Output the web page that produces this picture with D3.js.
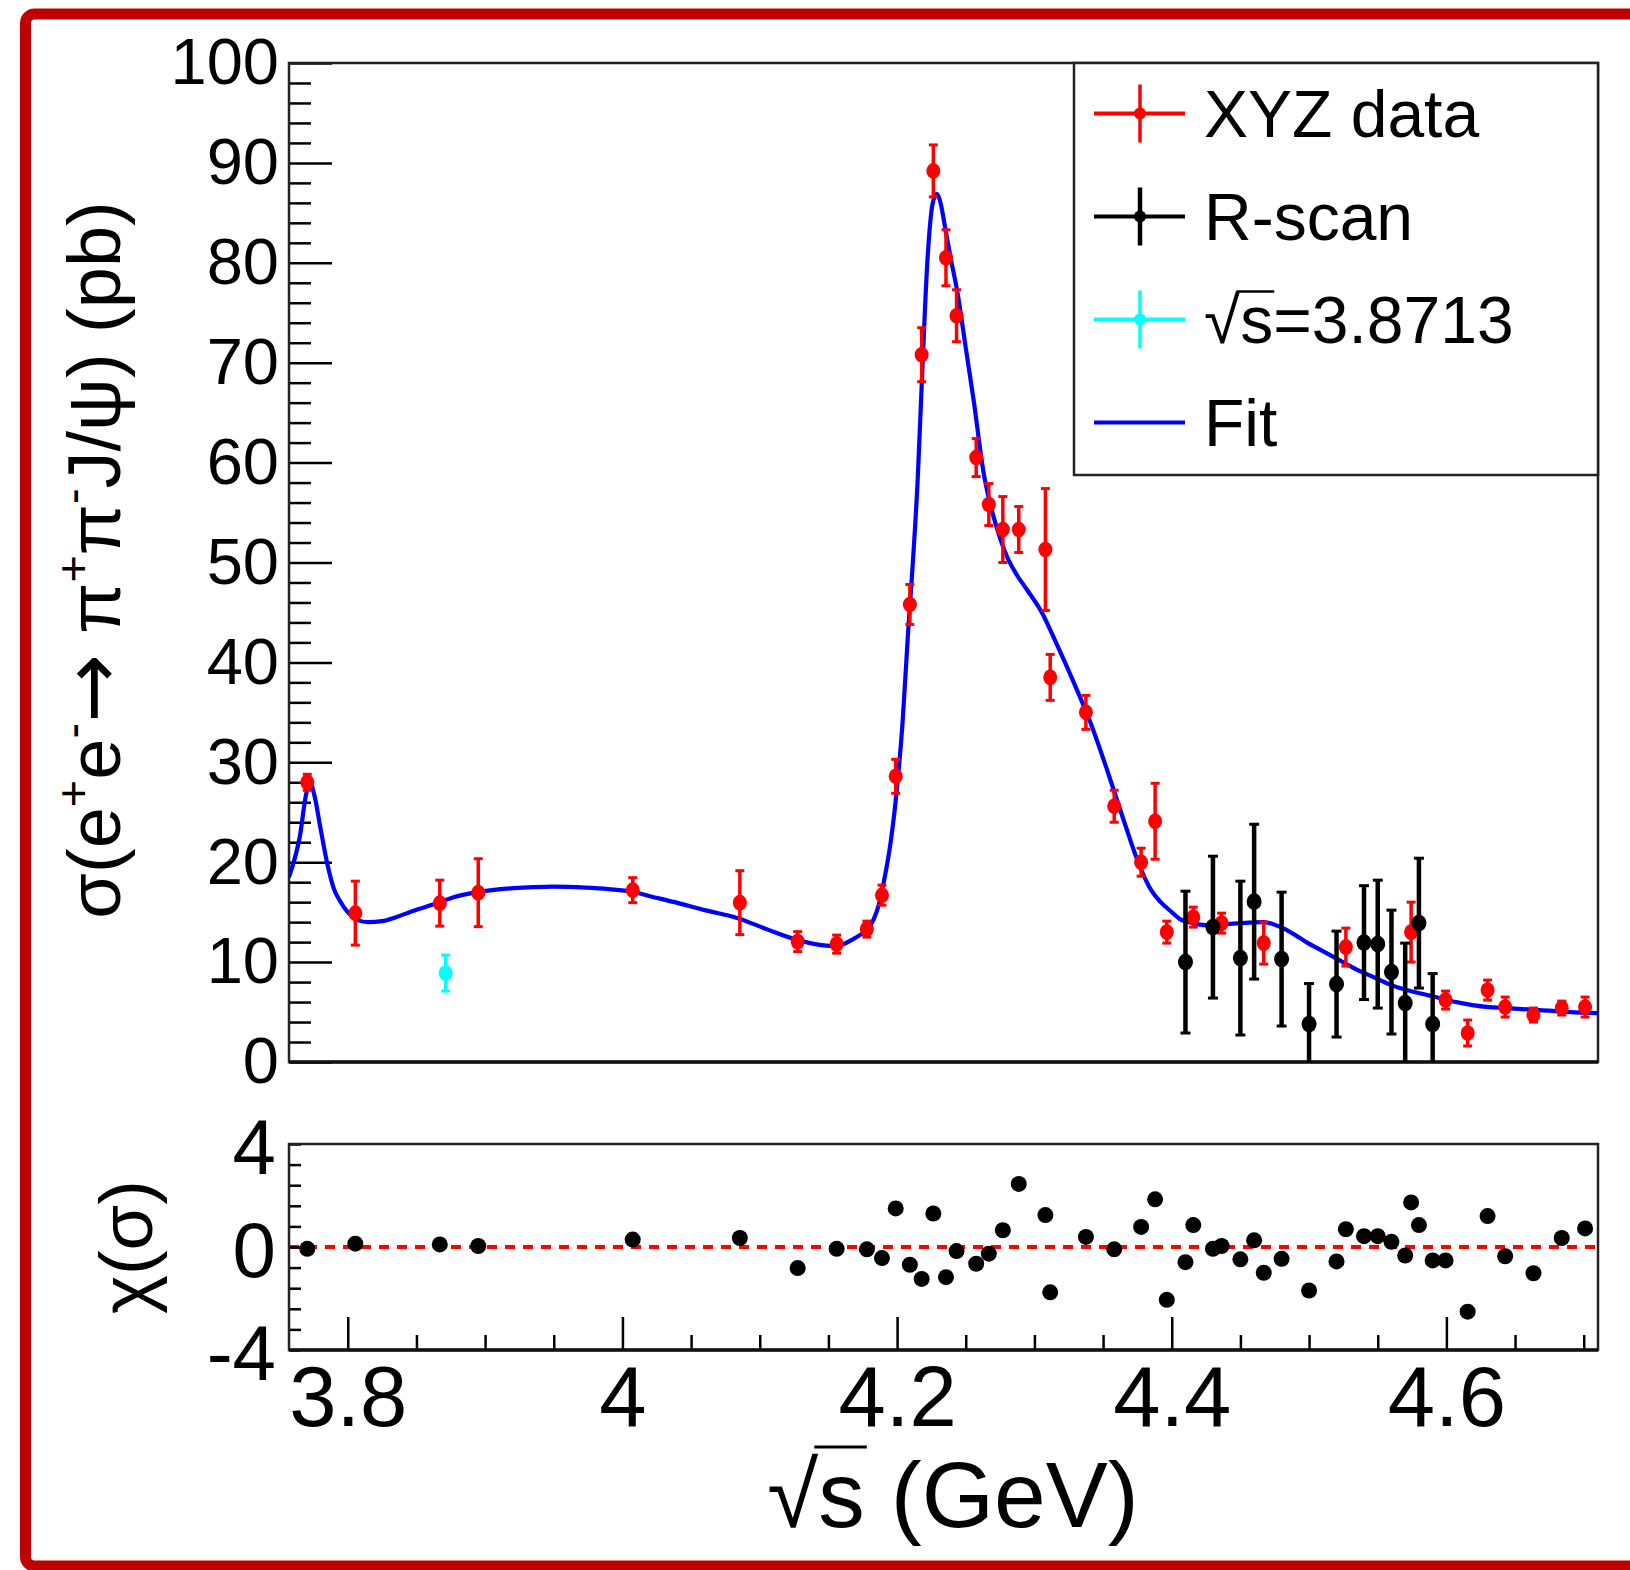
<!DOCTYPE html>
<html>
<head>
<meta charset="utf-8">
<script src="https://cdn.jsdelivr.net/npm/d3@7"></script>
<style>
body { margin: 0; background: #fff; }
svg text { font-family: "Liberation Sans", Arial, Helvetica, sans-serif; fill: #000; }
</style>
</head>
<body>
<svg id="chart" width="1630" height="1570"></svg>
<script>
// XYZ data points (red)
const xyzE = [3.7705, 3.8055, 3.867, 3.895, 4.0075, 4.0855, 4.1276, 4.156, 4.178, 4.189,
  4.199, 4.2093, 4.2179, 4.2264, 4.2356, 4.2433, 4.2576, 4.2668, 4.277, 4.2886,
  4.308, 4.3115, 4.3375, 4.3581, 4.3777, 4.3879, 4.3964, 4.4157, 4.4363, 4.467,
  4.5268, 4.5743, 4.5994, 4.6155, 4.630, 4.6428, 4.6634, 4.684, 4.701];
const xyzS = [28.0, 14.9, 15.9, 16.95, 17.2, 15.95, 12.05, 11.8, 13.3, 16.7,
  28.6, 45.8, 70.8, 89.2, 80.5, 74.7, 60.5, 55.8, 53.3, 53.3,
  51.3, 38.5, 35.0, 25.6, 20.0, 24.1, 13.0, 14.5, 13.9, 11.9,
  11.5, 13.0, 6.2, 2.9, 7.2, 5.5, 4.7, 5.4, 5.5];
const xyzErr = [0.8, 3.2, 2.3, 3.4, 1.25, 3.2, 1.0, 0.9, 0.8, 1.0,
  1.7, 2.0, 2.7, 2.6, 2.8, 2.6, 1.9, 2.1, 3.3, 2.3,
  6.1, 2.3, 1.7, 1.6, 1.4, 3.8, 1.1, 1.0, 1.0, 2.1,
  1.9, 3.0, 0.9, 1.3, 1.0, 1.0, 0.7, 0.7, 1.0];
const xyzChi = [-0.07, 0.13, 0.1, 0.04, 0.29, 0.35, -0.82, -0.07, -0.09, -0.43,
  1.5, -0.69, -1.24, 1.3, -1.17, -0.16, -0.65, -0.26, 0.65, 2.45,
  1.24, -1.76, 0.39, -0.09, 0.78, 1.85, -2.05, 0.85, 0.04, -1.0,
  0.69, 1.73, -0.52, -2.51, 1.2, -0.36, -1.02, 0.35, 0.72];

// R-scan points (black)
const rscanE = [4.41, 4.43, 4.45, 4.46, 4.48, 4.50, 4.52, 4.54, 4.55, 4.56, 4.57, 4.58, 4.59];
const rscanS = [10.0, 13.5, 10.4, 16.05, 10.3, 3.8, 7.8, 11.95, 11.8, 9.0, 5.9, 13.9, 3.8];
const rscanErr = [7.1, 7.1, 7.7, 7.75, 6.7, 4.05, 5.3, 5.7, 6.4, 6.2, 6.0, 6.5, 5.05];
const rscanChi = [-0.59, -0.07, -0.48, 0.26, -0.46, -1.69, -0.56, 0.42, 0.42, 0.2, -0.33, 0.85, -0.52];

// point at sqrt(s)=3.8713 (cyan)
const cyanE = [3.8713];
const cyanS = [8.9];
const cyanErr = [1.8];

// fit curve
const fitE = [3.7572, 3.765, 3.770, 3.773, 3.776, 3.780, 3.785, 3.790, 3.794, 3.800,
  3.807, 3.815, 3.825, 3.835, 3.845, 3.856, 3.867, 3.877, 3.890, 3.905,
  3.921, 3.935, 3.950, 3.973, 3.990, 4.007, 4.020, 4.038, 4.060, 4.084,
  4.105, 4.128, 4.145, 4.155, 4.161, 4.168, 4.174, 4.178, 4.183, 4.187,
  4.191, 4.195, 4.200, 4.204, 4.208, 4.211, 4.215, 4.218, 4.222, 4.226,
  4.229, 4.232, 4.234, 4.239, 4.244, 4.250, 4.256, 4.263, 4.267, 4.273,
  4.280, 4.287, 4.295, 4.305, 4.317, 4.328, 4.341, 4.353, 4.365, 4.377,
  4.385, 4.392, 4.400, 4.406, 4.415, 4.425, 4.440, 4.450, 4.467, 4.474,
  4.481, 4.490, 4.498, 4.510, 4.522, 4.534, 4.547, 4.558, 4.571, 4.583,
  4.595, 4.607, 4.619, 4.631, 4.643, 4.655, 4.668, 4.690, 4.7104];
const fitS = [18.5, 22.5, 27.0, 27.8, 26.5, 23.5, 19.9, 17.3, 16.2, 15.0,
  14.2, 14.0, 14.1, 14.5, 15.0, 15.5, 16.0, 16.5, 16.9, 17.2,
  17.4, 17.5, 17.55, 17.45, 17.3, 17.05, 16.6, 16.0, 15.2, 14.4,
  13.3, 12.2, 11.7, 11.6, 11.8, 12.3, 12.8, 13.2, 14.3, 15.9,
  18.5, 21.7, 27.5, 34.0, 43.0, 49.0, 58.3, 68.0, 80.0, 86.0,
  86.9, 85.8, 84.3, 80.5, 77.0, 71.5, 66.0, 59.0, 56.3, 53.3,
  50.6, 48.8, 47.2, 45.1, 41.6, 38.2, 33.9, 29.2, 24.2, 19.5,
  17.2, 16.0, 15.0, 14.3, 13.9, 13.7, 13.8, 13.9, 14.0, 13.8,
  13.4, 12.7, 12.0, 11.1, 10.2, 9.3, 8.5, 7.8, 7.2, 6.8,
  6.4, 6.0, 5.7, 5.5, 5.4, 5.3, 5.2, 5.0, 4.9];

const yTickVals = [0, 10, 20, 30, 40, 50, 60, 70, 80, 90, 100];
const xTickVals = [3.8, 4, 4.2, 4.4, 4.6];
const chiTickVals = [-4, 0, 4];
const legendNames = ["XYZ data", "R-scan", "\u221As=3.8713", "Fit"];
const legendColors = ["#ff0000", "#000000", "#00ffff", "#0000ff"];

const svg = d3.select("#chart");
const left = 289, right = 1598;
const topY = 63, botY = 1062;
const chiTop = 1144, chiBot = 1350;

const x = d3.scaleLinear().domain([3.7572, 4.7104]).range([left, right]);
const y = d3.scaleLinear().domain([0, 100]).range([botY, topY]);
const yc = d3.scaleLinear().domain([-4, 4]).range([chiBot, chiTop]);

svg.append("rect").attr("width", 1630).attr("height", 1570).attr("fill", "#fff");

// outer red frame
svg.append("rect")
  .attr("x", 25.5).attr("y", 14).attr("width", 1660).attr("height", 1552)
  .attr("rx", 9)
  .attr("fill", "none").attr("stroke", "#c00000").attr("stroke-width", 11);

svg.append("clipPath").attr("id", "clipTop")
  .append("rect").attr("x", left).attr("y", topY).attr("width", right - left).attr("height", botY - topY);

// ---- top panel axes ----
const gyMinor = svg.append("g").attr("transform", `translate(${left},0)`)
  .call(d3.axisLeft(y).tickValues(d3.range(0, 101, 2).filter(v => v % 10 !== 0))
    .tickSizeInner(-22).tickSizeOuter(0).tickFormat(""));
const gy = svg.append("g").attr("transform", `translate(${left},0)`)
  .call(d3.axisLeft(y).tickValues(yTickVals).tickSizeInner(-43).tickSizeOuter(0)
    .tickPadding(10).tickFormat(d => String(d)));
[gyMinor, gy].forEach(g => {
  g.select(".domain").remove();
  g.selectAll("line").attr("stroke", "#000").attr("stroke-width", 2.5);
});
gy.selectAll("text").style("font-size", "65px");

svg.append("rect").attr("x", left).attr("y", topY)
  .attr("width", right - left).attr("height", botY - topY)
  .attr("fill", "none").attr("stroke", "#222").attr("stroke-width", 2.5);
svg.append("line").attr("x1", left).attr("x2", right).attr("y1", botY).attr("y2", botY)
  .attr("stroke", "#111").attr("stroke-width", 3.5);

// ---- fit ----
const fitLine = d3.line().x(d => x(d[0])).y(d => y(d[1])).curve(d3.curveMonotoneX);
svg.append("path")
  .datum(d3.zip(fitE, fitS))
  .attr("clip-path", "url(#clipTop)")
  .attr("d", fitLine)
  .attr("fill", "none").attr("stroke", "#0000ff").attr("stroke-width", 4.2);

// ---- data points with error bars ----
function drawPoints(E, S, Err, color, bw, cap, r) {
  const pts = E.map((e, i) => ({ e: e, s: S[i], err: Err[i] }));
  const g = svg.append("g").attr("clip-path", "url(#clipTop)");
  const p = g.selectAll("g.pt").data(pts).enter().append("g").attr("class", "pt");
  p.append("line")
    .attr("x1", d => x(d.e)).attr("x2", d => x(d.e))
    .attr("y1", d => y(d.s - d.err)).attr("y2", d => y(d.s + d.err))
    .attr("stroke", color).attr("stroke-width", bw);
  p.append("line")
    .attr("x1", d => x(d.e) - cap).attr("x2", d => x(d.e) + cap)
    .attr("y1", d => y(d.s + d.err)).attr("y2", d => y(d.s + d.err))
    .attr("stroke", color).attr("stroke-width", 3);
  p.append("line")
    .attr("x1", d => x(d.e) - cap).attr("x2", d => x(d.e) + cap)
    .attr("y1", d => y(d.s - d.err)).attr("y2", d => y(d.s - d.err))
    .attr("stroke", color).attr("stroke-width", 3);
  p.append("ellipse")
    .attr("cx", d => x(d.e)).attr("cy", d => y(d.s))
    .attr("rx", r).attr("ry", r + 0.8)
    .attr("fill", color);
}
drawPoints(xyzE, xyzS, xyzErr, "#ff0000", 3.5, 4.5, 7);
drawPoints(cyanE, cyanS, cyanErr, "#00ffff", 3.5, 4.5, 7);
drawPoints(rscanE, rscanS, rscanErr, "#000000", 4.5, 5, 7.5);

// ---- legend ----
const lg = svg.append("g");
lg.append("rect").attr("x", 1074).attr("y", topY).attr("width", right - 1074).attr("height", 412)
  .attr("fill", "#fff").attr("stroke", "#222").attr("stroke-width", 2.5);
const legY = d3.scaleBand().domain(legendNames).range([topY + 0, topY + 412]);
legendNames.forEach((name, i) => {
  const cy = legY(name) + legY.bandwidth() / 2 - 1;
  const col = legendColors[i];
  lg.append("line").attr("x1", 1094).attr("x2", 1185).attr("y1", cy).attr("y2", cy)
    .attr("stroke", col).attr("stroke-width", 4);
  if (i < 3) {
    lg.append("line").attr("x1", 1140).attr("x2", 1140).attr("y1", cy - 29).attr("y2", cy + 29)
      .attr("stroke", col).attr("stroke-width", i === 1 ? 4.5 : 3.5);
    lg.append("circle").attr("cx", 1140).attr("cy", cy).attr("r", 6).attr("fill", col);
  }
  const t = lg.append("text").attr("x", 1204).attr("y", cy + 23)
    .style("font-size", "66px").text(name);
  if (i === 2) {
    const n = t.node();
    const a = n.getExtentOfChar(0), b = n.getExtentOfChar(1);
    lg.append("line").attr("x1", a.x + a.width - 3).attr("x2", b.x + b.width + 1)
      .attr("y1", cy - 28).attr("y2", cy - 28).attr("stroke", "#000").attr("stroke-width", 2.5);
  }
});

// ---- bottom panel ----
svg.append("line").attr("x1", left).attr("x2", right).attr("y1", yc(0)).attr("y2", yc(0))
  .attr("stroke", "#ff0000").attr("stroke-width", 4).attr("stroke-dasharray", "10,8");

const gcMinor = svg.append("g").attr("transform", `translate(${left},0)`)
  .call(d3.axisLeft(yc).tickValues(d3.range(-5, 6).map(k => k * 0.8))
    .tickSizeInner(-12).tickSizeOuter(0).tickFormat(""));
const gc = svg.append("g").attr("transform", `translate(${left},0)`)
  .call(d3.axisLeft(yc).tickValues(chiTickVals).tickSizeInner(0).tickSizeOuter(0)
    .tickPadding(13).tickFormat(d => String(d)));
const gxMinor = svg.append("g").attr("transform", `translate(0,${chiBot})`)
  .call(d3.axisBottom(x).tickValues(d3.range(76, 95).filter(k => k % 4 !== 0).map(k => k * 0.05))
    .tickSizeInner(-15).tickSizeOuter(0).tickFormat(""));
const gx = svg.append("g").attr("transform", `translate(0,${chiBot})`)
  .call(d3.axisBottom(x).tickValues(xTickVals).tickSizeInner(-33).tickSizeOuter(0)
    .tickPadding(16).tickFormat(d => String(d)));
[gcMinor, gc, gxMinor, gx].forEach(g => {
  g.select(".domain").remove();
  g.selectAll("line").attr("stroke", "#000").attr("stroke-width", 2.5);
});
gc.selectAll("text").style("font-size", "78px").attr("dy", "0.38em");
gx.selectAll("text").style("font-size", "85px");

svg.append("rect").attr("x", left).attr("y", chiTop)
  .attr("width", right - left).attr("height", chiBot - chiTop)
  .attr("fill", "none").attr("stroke", "#222").attr("stroke-width", 2.5);
svg.append("line").attr("x1", left).attr("x2", right).attr("y1", chiBot).attr("y2", chiBot)
  .attr("stroke", "#111").attr("stroke-width", 3.5);

const chiPts = d3.zip(xyzE.concat(rscanE), xyzChi.concat(rscanChi));
svg.append("g").selectAll("circle").data(chiPts).enter().append("circle")
  .attr("cx", d => x(d[0])).attr("cy", d => yc(d[1]))
  .attr("r", 8).attr("fill", "#000");

// ---- axis titles ----
const yt = svg.append("text")
  .attr("transform", "translate(120,560) rotate(-90)")
  .attr("text-anchor", "middle")
  .style("font-size", "74px");
yt.append("tspan").text("\u03C3(e");
yt.append("tspan").attr("dy", -31).style("font-size", "47px").text("+");
yt.append("tspan").attr("dy", 31).text("e");
yt.append("tspan").attr("dy", -31).style("font-size", "47px").text("-");
yt.append("tspan").attr("dy", 31).style("font-family", "DejaVu Sans").style("font-size", "82px").text("\u2192");
yt.append("tspan").text(" \u03C0");
yt.append("tspan").attr("dy", -31).style("font-size", "47px").text("+");
yt.append("tspan").attr("dy", 31).text("\u03C0");
yt.append("tspan").attr("dy", -31).style("font-size", "47px").text("-");
yt.append("tspan").attr("dy", 31).text("J/\u03C8) (pb)");

svg.append("text")
  .attr("transform", `translate(152,${yc(0)}) rotate(-90)`)
  .attr("text-anchor", "middle")
  .style("font-size", "74px")
  .text("\u03C7(\u03C3)");

const xt = svg.append("text")
  .attr("x", 953).attr("y", 1527)
  .attr("text-anchor", "middle")
  .style("font-size", "93px")
  .text("\u221As (GeV)");
const xn = xt.node();
const ra = xn.getExtentOfChar(0), rb = xn.getExtentOfChar(1);
svg.append("line").attr("x1", ra.x + ra.width - 4).attr("x2", rb.x + rb.width + 2)
  .attr("y1", 1447).attr("y2", 1447).attr("stroke", "#000").attr("stroke-width", 3);
</script>
</body>
</html>
